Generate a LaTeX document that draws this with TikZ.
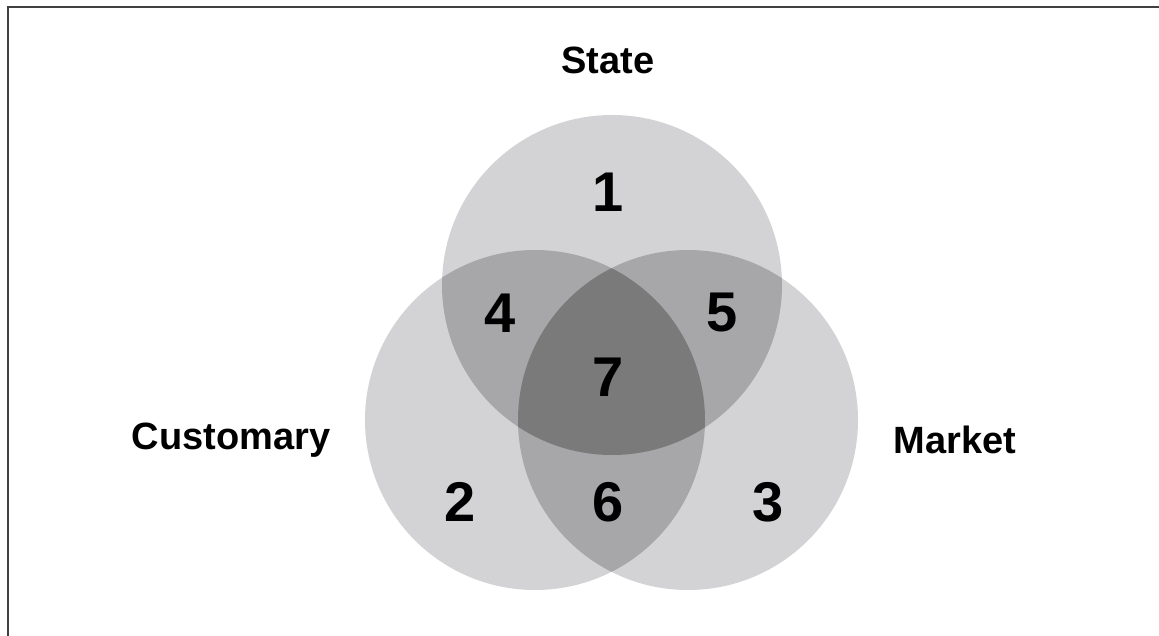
\documentclass[tikz,border=0pt]{standalone}
\usepackage{fontspec}
\setmainfont{Liberation Sans}
\usetikzlibrary{positioning}
\definecolor{oneset}{RGB}{211,211,213}
\definecolor{twoset}{RGB}{167,167,169}
\definecolor{threeset}{RGB}{122,122,123}
\newcommand{\setrad}{170pt}

\begin{document}
\begin{tikzpicture}[x=1pt,y=-1pt]
\tikzstyle{set} = [circle, minimum size=340pt, inner sep=0pt, fill=oneset]
\tikzstyle{num} = [font=\fontsize{56}{56}\selectfont\bfseries]
\tikzstyle{title} = [font=\fontsize{38}{40}\selectfont\bfseries]
\useasboundingbox (0,0) rectangle (1159,636);
\draw[line width=2pt, black!75] (8,636) -- (8,7) -- (1159,7);
% the three sets
\node[set] (St) at (612,285) {};
\node[set] (Cu) at (535,420) {};
\node[set] (Ma) at (688,420) {};
% overlaps
\begin{scope}
\clip (St.center) circle (\setrad);
\fill[twoset] (Cu.center) circle (\setrad);
\fill[twoset] (Ma.center) circle (\setrad);
\end{scope}
\begin{scope}
\clip (Cu.center) circle (\setrad);
\fill[twoset] (Ma.center) circle (\setrad);
\clip (Ma.center) circle (\setrad);
\fill[threeset] (St.center) circle (\setrad);
\end{scope}
% region numbers
\node[num] (n1) at (608,192) {1};
\node[num] (n4) at (500,313) {4};
\node[num] (n5) at (722,313) {5};
\node[num] (n7) at (608,377) {7};
\node[num] (n2) at (460,502) {2};
\node[num] (n6) at (608,502) {6};
\node[num] (n3) at (768,502) {3};
% set names
\node[title] (state) at (608,60) {State};
\node[title] (cust) at (231,440) {Customary};
\node[title] (mark) at (955,440) {Market};
\end{tikzpicture}
\end{document}
